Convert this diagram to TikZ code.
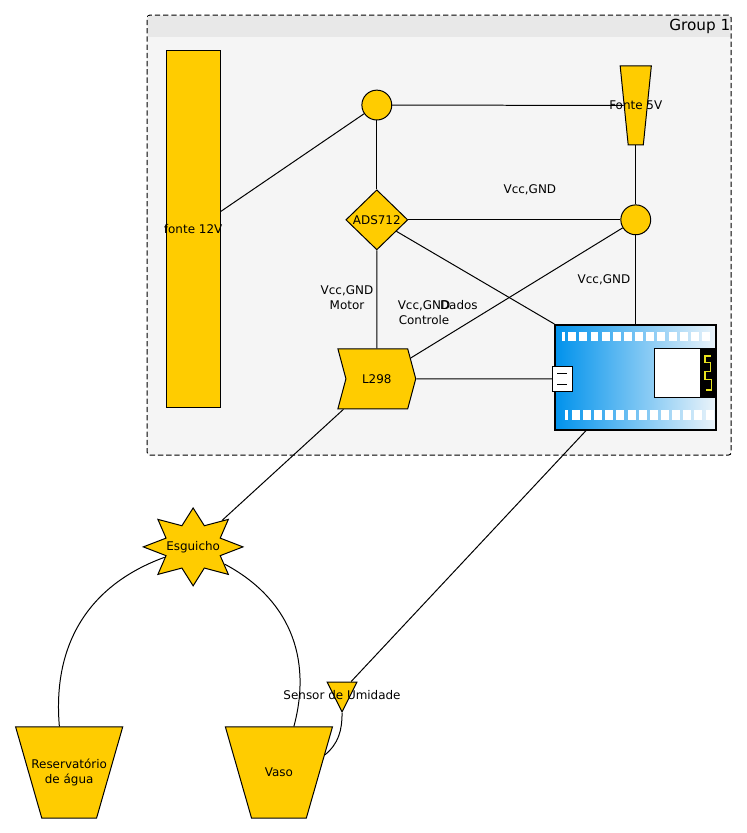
\documentclass[tikz,border=0pt]{standalone}
\usepackage{fontspec}
\setmainfont{DejaVu Sans}
\usetikzlibrary{positioning,calc,shapes.geometric,shapes.symbols}
\definecolor{SoftAmber}{RGB}{255,204,0}
\definecolor{SoftPanel}{RGB}{245,245,245}
\definecolor{SoftHeader}{RGB}{232,232,232}
\definecolor{ChipBlue}{RGB}{0,146,236}
\definecolor{ChipPale}{RGB}{236,244,250}
\definecolor{TraceYellow}{RGB}{232,226,30}
\tikzset{
  part/.style={draw, fill=SoftAmber, line width=0.75pt, inner sep=0pt},
  junction/.style={part, circle, minimum size=0.79cm},
  pot/.style={part, trapezium, shape border rotate=180, trapezium angle=74, text width=1.45cm, text height=2.41cm, text depth=0pt},
  wire/.style={line width=0.75pt},
  tag/.style={align=center}
}
\begin{document}
\begin{tikzpicture}[every node/.style={font=\fontsize{9pt}{11pt}\selectfont}]
\useasboundingbox (0,0) rectangle (19.76,22.04);
\node[draw, dash pattern=on 4pt off 2.2pt, fill=SoftPanel, rounded corners=2pt, line width=0.75pt, minimum width=15.45cm, minimum height=11.64cm, inner sep=0pt] (group) at (11.62,15.82) {};
\node[fill=SoftHeader, anchor=north, yshift=-0.5pt, minimum width=15.4cm, minimum height=0.58cm, inner sep=0pt] (groupbar) at (group.north) {};
\node[anchor=east, font=\fontsize{11.5pt}{13pt}\selectfont] (grouplabel) at (19.45,21.35) {Group 1};

\node[part, minimum width=1.43cm, minimum height=9.45cm, label={center:fonte 12V}] (fonte12) at (5.11,15.97) {};
\node[junction] (jtop) at (9.97,19.26) {};
\node[part, diamond, below=1.82cm of jtop, minimum width=1.64cm, minimum height=1.59cm] (ads) {ADS712};
\node[part, signal, signal to=east, signal from=west, signal pointer angle=150, below=2.59cm of ads, minimum width=2.06cm, minimum height=1.59cm] (l298) {L298};
\node[junction, right=5.61cm of ads] (jright) {};
\node[part, trapezium, shape border rotate=180, trapezium angle=84.2, above=1.56cm of jright, text width=0.4cm, text height=2.09cm, text depth=0pt, label={center:Fonte 5V}] (fonte5) {};

\node[draw, left color=ChipBlue, right color=ChipPale, line width=1.2pt, below=2.35cm of jright, minimum width=4.26cm, minimum height=2.78cm, inner sep=0pt] (mcu) {};
\begin{scope}[shift={(mcu.north west)}]
\fill[white] (0.2,-0.21) rectangle (0.28,-0.45);
\fill[white] (0.28,-2.27) rectangle (0.365,-2.53);
\foreach \i in {0,...,12} {
  \fill[white] ({0.365+0.295*\i},-0.21) rectangle ++(0.21,-0.24);
  \fill[white] ({0.46+0.295*\i},-2.27) rectangle ++(0.21,-0.26);
}
\fill[black] (3.87,-0.64) rectangle (4.26,-1.95);
\draw[fill=white, line width=1pt] (2.65,-0.64) rectangle (3.87,-1.95);
\draw[TraceYellow, line width=1.1pt] (4.13,-0.84) -- (3.98,-0.84) -- (3.98,-1.01) -- (4.13,-1.01) -- (4.13,-1.26) -- (3.98,-1.26) -- (3.98,-1.47) -- (4.15,-1.47) -- (4.15,-1.75) -- (4.0,-1.75);
\end{scope}
\node[draw, fill=white, line width=0.5pt, right=3.585cm of l298, minimum width=0.54cm, minimum height=0.65cm, inner sep=0pt] (usb) {};
\draw[line width=0.5pt] ($(usb.center)+(-0.13,0.15)$) -- ($(usb.center)+(0.13,0.15)$) ($(usb.center)+(-0.13,-0.15)$) -- ($(usb.center)+(0.13,-0.15)$);

\node[pot, label={[align=center]center:Reservatório\\de água}] (reservoir) at (1.83,1.60) {};
\node[pot, label={center:Vaso}] (vaso) at (7.38,1.60) {};
\node[part, isosceles triangle, isosceles triangle apex angle=53, isosceles triangle stretches=false, shape border rotate=-90, minimum height=0.79cm] (sensor) at (9.05,3.75) {};
\node[part, star, star points=8, star point ratio=1.7, minimum size=2.06cm, xscale=1.28, transform shape] (esguicho) at (5.11,7.57) {};

\draw[wire] (fonte12.33) -- (jtop);
\draw[wire] (jtop.east) -- (fonte5.west);
\draw[wire] (jtop) -- (ads);
\draw[wire] (ads) -- (jright);
\draw[wire] (fonte5.south) -- (jright);
\draw[wire] (jright) -- (mcu.north);
\draw[wire] (jright) -- (l298);
\draw[wire] (ads) -- (mcu.north west);
\draw[wire] (ads) -- (l298);
\draw[wire] (l298) -- (usb);
\draw[wire] (l298) -- (esguicho);
\draw[wire] (mcu) -- (sensor);
\draw[wire] (esguicho.205) to[out=200, in=95, looseness=1.05] (reservoir.102);
\draw[wire] (esguicho.-35) to[out=-28, in=75, looseness=1.05] (vaso.72);
\draw[wire] (sensor.apex) to[out=-90, in=40, looseness=1] (vaso.21);

\node[tag] (supply) at (14.02,17.01) {Vcc,GND};
\node[tag] (motor) at (9.18,14.16) {Vcc,GND\\Motor};
\node[tag] (control) at (11.22,13.76) {Vcc,GND\\Controle};
\node[tag] (dados) at (12.14,13.97) {Dados};
\node[tag] (logic) at (15.98,14.63) {Vcc,GND};
\node[tag] (esglabel) at (esguicho.center) {Esguicho};
\node[tag] (sensorlabel) at (9.05,3.64) {Sensor de Umidade};
\end{tikzpicture}
\end{document}
